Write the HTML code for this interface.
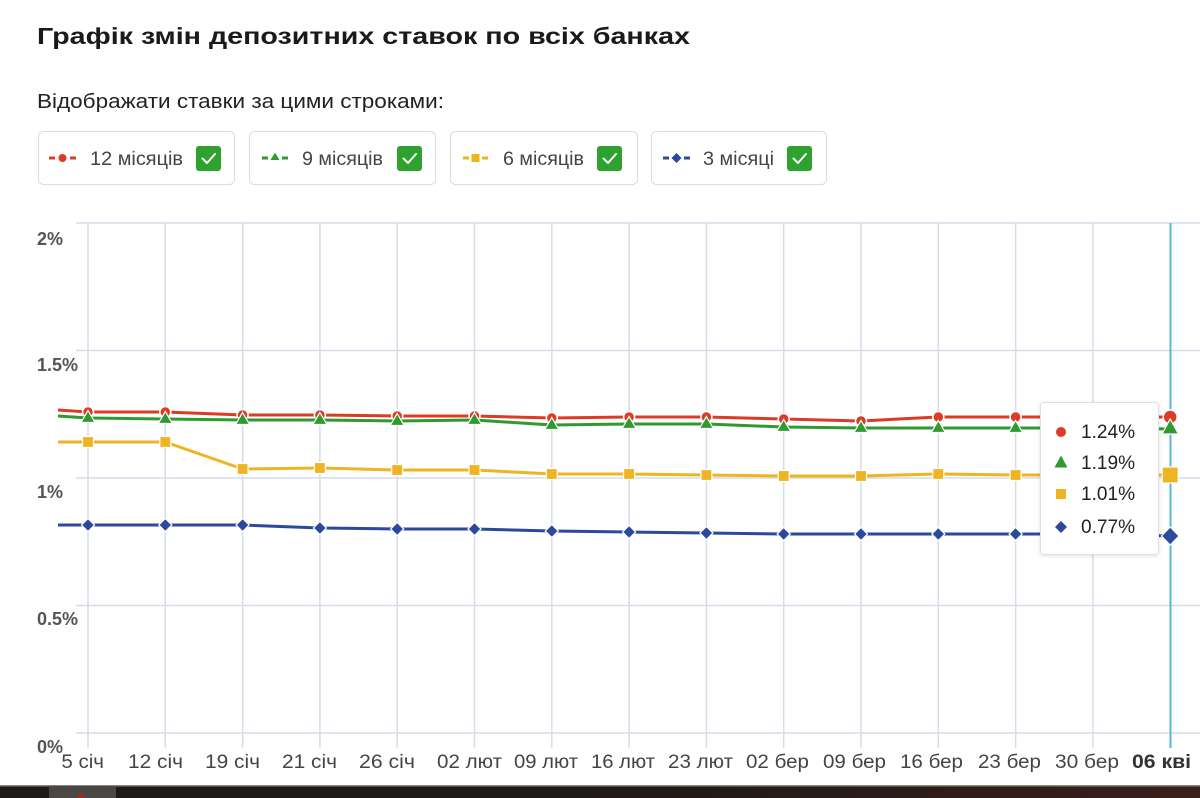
<!DOCTYPE html>
<html><head><meta charset="utf-8"><style>
html,body{margin:0;padding:0;background:#fff;}
svg{display:block;}
text{font-family:"Liberation Sans","Noto Sans CJK SC",sans-serif;}
</style></head><body>
<svg width="1200" height="798" viewBox="0 0 1200 798" xmlns="http://www.w3.org/2000/svg">
<defs>
  <clipPath id="plot"><rect x="58" y="200" width="1142" height="585"/></clipPath>
  <clipPath id="lbl"><rect x="61" y="740" width="1139" height="45"/></clipPath>
  <linearGradient id="bar" x1="0" x2="1" y1="0" y2="0">
    <stop offset="0" stop-color="#1c1b18"/><stop offset="0.55" stop-color="#1f1a17"/><stop offset="1" stop-color="#3b1f1a"/>
  </linearGradient>
  <filter id="sh" x="-10%" y="-10%" width="120%" height="120%"><feDropShadow dx="0" dy="1" stdDeviation="2" flood-color="#000" flood-opacity="0.12"/></filter>
  <g id="mc"><circle r="5.5" fill="#dc3b26" stroke="#fff" stroke-width="1.5"/></g>
  <g id="mt"><polygon points="0,-7.5 7,4.5 -7,4.5" fill="#2f9a2f" stroke="#fff" stroke-width="1.2"/></g>
  <g id="ms"><rect x="-5.5" y="-5.5" width="11" height="11" fill="#eeb422" stroke="#fff" stroke-width="1.2"/></g>
  <g id="md"><polygon points="0,-6.5 6.5,0 0,6.5 -6.5,0" fill="#2c4a9c" stroke="#fff" stroke-width="1.2"/></g>
</defs>

<!-- Title -->
<text x="37" y="44" font-size="23" font-weight="bold" fill="#1a1a1a" textLength="653" lengthAdjust="spacingAndGlyphs">Графік змін депозитних ставок по всіх банках</text>
<text x="37" y="108" font-size="20" fill="#222" textLength="407" lengthAdjust="spacingAndGlyphs">Відображати ставки за цими строками:</text>

<!-- Legend boxes -->
<g stroke="#dcdcdc" stroke-width="1" fill="#fff">
  <rect x="38.5" y="131.5" width="196" height="53" rx="5"/>
  <rect x="249.5" y="131.5" width="186" height="53" rx="5"/>
  <rect x="450.5" y="131.5" width="187" height="53" rx="5"/>
  <rect x="651.5" y="131.5" width="175" height="53" rx="5"/>
</g>
<!-- legend markers -->
<g>
  <rect x="49" y="156.5" width="6" height="3" fill="#dc3b26"/><rect x="70" y="156.5" width="6" height="3" fill="#dc3b26"/>
  <circle cx="62.5" cy="158" r="4" fill="#dc3b26"/>
  <rect x="262" y="156.5" width="6" height="3" fill="#2f9a2f"/><rect x="282" y="156.5" width="6" height="3" fill="#2f9a2f"/>
  <polygon points="275,152.5 279.5,160 270.5,160" fill="#2f9a2f"/>
  <rect x="463" y="156.5" width="6" height="3" fill="#eeb422"/><rect x="482" y="156.5" width="6" height="3" fill="#eeb422"/>
  <rect x="471.5" y="154" width="8" height="8" fill="#eeb422"/>
  <rect x="663" y="156.5" width="6" height="3" fill="#2c4a9c"/><rect x="684" y="156.5" width="6" height="3" fill="#2c4a9c"/>
  <polygon points="676.5,153 681.5,158 676.5,163 671.5,158" fill="#2c4a9c"/>
</g>
<g font-size="19" fill="#444">
  <text x="90" y="165" textLength="93" lengthAdjust="spacingAndGlyphs">12 місяців</text>
  <text x="302" y="165" textLength="81" lengthAdjust="spacingAndGlyphs">9 місяців</text>
  <text x="503" y="165" textLength="81" lengthAdjust="spacingAndGlyphs">6 місяців</text>
  <text x="703" y="165" textLength="71" lengthAdjust="spacingAndGlyphs">3 місяці</text>
</g>
<!-- checkboxes -->
<g>
  <rect x="196" y="146" width="25" height="25" rx="3" fill="#2ea12e"/>
  <rect x="397" y="146" width="25" height="25" rx="3" fill="#2ea12e"/>
  <rect x="597" y="146" width="25" height="25" rx="3" fill="#2ea12e"/>
  <rect x="787" y="146" width="25" height="25" rx="3" fill="#2ea12e"/>
  <g fill="none" stroke="#fff" stroke-width="2" stroke-linecap="round" stroke-linejoin="round">
    <polyline points="202.5,158.5 207,163 215,154"/>
    <polyline points="403.5,158.5 408,163 416,154"/>
    <polyline points="603.5,158.5 608,163 616,154"/>
    <polyline points="793.5,158.5 798,163 806,154"/>
  </g>
</g>

<!-- Grid -->
<g stroke="#d6dcea" stroke-width="1.5">
  <line x1="76" y1="223" x2="1200" y2="223"/>
  <line x1="76" y1="350.5" x2="1200" y2="350.5"/>
  <line x1="76" y1="478" x2="1200" y2="478"/>
  <line x1="76" y1="605.5" x2="1200" y2="605.5"/>
  <line x1="76" y1="733" x2="1200" y2="733"/>
  <line x1="88" y1="223" x2="88" y2="748"/>
  <line x1="165.3" y1="223" x2="165.3" y2="748"/>
  <line x1="242.6" y1="223" x2="242.6" y2="748"/>
  <line x1="319.9" y1="223" x2="319.9" y2="748"/>
  <line x1="397.2" y1="223" x2="397.2" y2="748"/>
  <line x1="474.5" y1="223" x2="474.5" y2="748"/>
  <line x1="551.8" y1="223" x2="551.8" y2="748"/>
  <line x1="629.1" y1="223" x2="629.1" y2="748"/>
  <line x1="706.4" y1="223" x2="706.4" y2="748"/>
  <line x1="783.7" y1="223" x2="783.7" y2="748"/>
  <line x1="861" y1="223" x2="861" y2="748"/>
  <line x1="938.3" y1="223" x2="938.3" y2="748"/>
  <line x1="1015.6" y1="223" x2="1015.6" y2="748"/>
  <line x1="1092.9" y1="223" x2="1092.9" y2="748"/>
</g>
<line x1="1170.5" y1="223" x2="1170.5" y2="748" stroke="#5ab4e0" stroke-width="2"/>

<!-- Y labels -->
<g font-size="18" font-weight="bold" fill="#555">
  <text x="37" y="245">2%</text>
  <text x="37" y="371">1.5%</text>
  <text x="37" y="498">1%</text>
  <text x="37" y="625">0.5%</text>
  <text x="37" y="753">0%</text>
</g>

<!-- X labels -->
<g font-size="19" fill="#444" clip-path="url(#lbl)">
  <text x="50" y="768" textLength="54" lengthAdjust="spacingAndGlyphs">05 січ</text>
  <text x="128" y="768" textLength="55" lengthAdjust="spacingAndGlyphs">12 січ</text>
  <text x="205" y="768" textLength="55" lengthAdjust="spacingAndGlyphs">19 січ</text>
  <text x="282" y="768" textLength="55" lengthAdjust="spacingAndGlyphs">21 січ</text>
  <text x="359" y="768" textLength="56" lengthAdjust="spacingAndGlyphs">26 січ</text>
  <text x="437" y="768" textLength="65" lengthAdjust="spacingAndGlyphs">02 лют</text>
  <text x="514" y="768" textLength="64" lengthAdjust="spacingAndGlyphs">09 лют</text>
  <text x="591" y="768" textLength="64" lengthAdjust="spacingAndGlyphs">16 лют</text>
  <text x="668" y="768" textLength="65" lengthAdjust="spacingAndGlyphs">23 лют</text>
  <text x="746" y="768" textLength="63" lengthAdjust="spacingAndGlyphs">02 бер</text>
  <text x="823" y="768" textLength="63" lengthAdjust="spacingAndGlyphs">09 бер</text>
  <text x="900" y="768" textLength="63" lengthAdjust="spacingAndGlyphs">16 бер</text>
  <text x="978" y="768" textLength="63" lengthAdjust="spacingAndGlyphs">23 бер</text>
  <text x="1055" y="768" textLength="64" lengthAdjust="spacingAndGlyphs">30 бер</text>
  <text x="1132" y="768" font-weight="bold" fill="#333" textLength="59" lengthAdjust="spacingAndGlyphs">06 кві</text>
</g>

<!-- Series -->
<g clip-path="url(#plot)" fill="none" stroke-width="3" stroke-linejoin="round">
  <polyline stroke="#dc3b26" points="58,410 88,412 165.3,412 242.6,415 319.9,415 397.2,416 474.5,416 551.8,418 629.1,417 706.4,417 783.7,419 861,421 938.3,417 1015.6,417 1092.9,417 1170.2,417"/>
</g>
<g>
  <use href="#mc" x="88" y="412"/><use href="#mc" x="165.3" y="412"/><use href="#mc" x="242.6" y="415"/><use href="#mc" x="319.9" y="415"/><use href="#mc" x="397.2" y="416"/><use href="#mc" x="474.5" y="416"/><use href="#mc" x="551.8" y="418"/><use href="#mc" x="629.1" y="417"/><use href="#mc" x="706.4" y="417"/><use href="#mc" x="783.7" y="419"/><use href="#mc" x="861" y="421"/><use href="#mc" x="938.3" y="417"/><use href="#mc" x="1015.6" y="417"/><use href="#mc" x="1092.9" y="417"/>
</g>
<g clip-path="url(#plot)" fill="none" stroke-width="3" stroke-linejoin="round">
  <polyline stroke="#2f9a2f" points="58,416 88,418 165.3,419 242.6,420 319.9,420 397.2,421 474.5,420 551.8,425 629.1,424 706.4,424 783.7,427 861,428 938.3,428 1015.6,428 1092.9,428 1170.2,429"/>
</g>
<g>
  <use href="#mt" x="88" y="418"/><use href="#mt" x="165.3" y="419"/><use href="#mt" x="242.6" y="420"/><use href="#mt" x="319.9" y="420"/><use href="#mt" x="397.2" y="421"/><use href="#mt" x="474.5" y="420"/><use href="#mt" x="551.8" y="425"/><use href="#mt" x="629.1" y="424"/><use href="#mt" x="706.4" y="424"/><use href="#mt" x="783.7" y="427"/><use href="#mt" x="861" y="428"/><use href="#mt" x="938.3" y="428"/><use href="#mt" x="1015.6" y="428"/><use href="#mt" x="1092.9" y="428"/>
</g>
<g clip-path="url(#plot)" fill="none" stroke-width="3" stroke-linejoin="round">
  <polyline stroke="#eeb422" points="58,442 88,442 165.3,442 242.6,469 319.9,468 397.2,470 474.5,470 551.8,474 629.1,474 706.4,475 783.7,476 861,476 938.3,474 1015.6,475 1092.9,475 1170.2,475"/>
</g>
<g>
  <use href="#ms" x="88" y="442"/><use href="#ms" x="165.3" y="442"/><use href="#ms" x="242.6" y="469"/><use href="#ms" x="319.9" y="468"/><use href="#ms" x="397.2" y="470"/><use href="#ms" x="474.5" y="470"/><use href="#ms" x="551.8" y="474"/><use href="#ms" x="629.1" y="474"/><use href="#ms" x="706.4" y="475"/><use href="#ms" x="783.7" y="476"/><use href="#ms" x="861" y="476"/><use href="#ms" x="938.3" y="474"/><use href="#ms" x="1015.6" y="475"/><use href="#ms" x="1092.9" y="475"/>
</g>
<g clip-path="url(#plot)" fill="none" stroke-width="3" stroke-linejoin="round">
  <polyline stroke="#2c4a9c" points="58,525 88,525 165.3,525 242.6,525 319.9,528 397.2,529 474.5,529 551.8,531 629.1,532 706.4,533 783.7,534 861,534 938.3,534 1015.6,534 1092.9,534 1170.2,536"/>
</g>
<g>
  <use href="#md" x="88" y="525"/><use href="#md" x="165.3" y="525"/><use href="#md" x="242.6" y="525"/><use href="#md" x="319.9" y="528"/><use href="#md" x="397.2" y="529"/><use href="#md" x="474.5" y="529"/><use href="#md" x="551.8" y="531"/><use href="#md" x="629.1" y="532"/><use href="#md" x="706.4" y="533"/><use href="#md" x="783.7" y="534"/><use href="#md" x="861" y="534"/><use href="#md" x="938.3" y="534"/><use href="#md" x="1015.6" y="534"/><use href="#md" x="1092.9" y="534"/>
</g>

<!-- Tooltip -->
<rect x="1040.5" y="402.5" width="118" height="152" rx="3" fill="#fff" stroke="#e0e0e0" filter="url(#sh)"/>
<circle cx="1061" cy="432" r="5" fill="#dc3b26"/>
<polygon points="1061,455.5 1067.5,467.5 1054.5,467.5" fill="#2f9a2f"/>
<rect x="1056" y="489" width="10" height="10" fill="#eeb422"/>
<polygon points="1061,521 1067,527 1061,533 1055,527" fill="#2c4a9c"/>
<g font-size="19" fill="#222">
  <text x="1081" y="438" textLength="54" lengthAdjust="spacingAndGlyphs">1.24%</text>
  <text x="1081" y="469" textLength="54" lengthAdjust="spacingAndGlyphs">1.19%</text>
  <text x="1081" y="500" textLength="54" lengthAdjust="spacingAndGlyphs">1.01%</text>
  <text x="1081" y="533" textLength="54" lengthAdjust="spacingAndGlyphs">0.77%</text>
</g>

<!-- Hovered last points -->
<circle cx="1170.2" cy="417" r="7" fill="#dc3b26" stroke="#fff" stroke-width="1.5"/>
<polygon points="1170.2,419 1178.5,434 1162,434" fill="#2f9a2f" stroke="#fff" stroke-width="1.2"/>
<rect x="1162.2" y="467" width="16" height="16" fill="#eeb422" stroke="#fff" stroke-width="1.2"/>
<polygon points="1170.2,527 1179,536 1170.2,545 1161.4,536" fill="#2c4a9c" stroke="#fff" stroke-width="1.2"/>

<!-- Bottom dark bar -->
<rect x="0" y="785" width="1200" height="13" fill="url(#bar)"/>
<rect x="0" y="785" width="1200" height="1.5" fill="#8a8580"/>
<rect x="49" y="786" width="67" height="12" fill="#4a4744"/>
<circle cx="81" cy="798" r="4" fill="#a02a22"/>
</svg>
</body></html>
